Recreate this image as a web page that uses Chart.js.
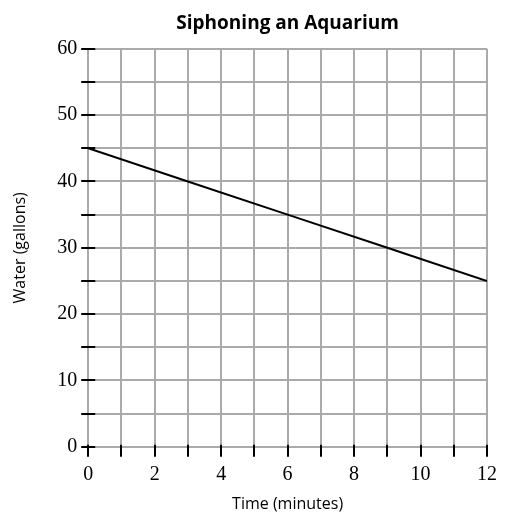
<!DOCTYPE html>
<html>
<head>
<meta charset="utf-8">
<script src="https://cdn.jsdelivr.net/npm/chart.js@4.4.0/dist/chart.umd.min.js"></script>
<style>
html,body{margin:0;padding:0;background:#fff;}
#wrap{width:509px;height:517px;position:relative;}
</style>
</head>
<body>
<div id="wrap"><canvas id="c" width="509" height="517"></canvas></div>
<script>
const timeMinutes = [0, 3, 6, 9, 12];
const waterGallons = [45, 40, 35, 30, 25];
const xTickLabels = [0, 2, 4, 6, 8, 10, 12];
const yTickLabels = [0, 10, 20, 30, 40, 50, 60];

const points = timeMinutes.map((t, i) => ({x: t, y: waterGallons[i]}));

const tickMarks = {
  id: 'tickMarks',
  afterDraw(chart) {
    const ctx = chart.ctx;
    const xs = chart.scales.x, ys = chart.scales.y;
    const area = chart.chartArea;
    ctx.save();
    ctx.strokeStyle = '#000';
    ctx.lineWidth = 2;
    ctx.beginPath();
    for (let v = 0; v <= 60; v += 5) {
      const py = Math.round(ys.getPixelForValue(v));
      ctx.moveTo(area.left - 7, py);
      ctx.lineTo(area.left + 7, py);
    }
    for (let v = 0; v <= 12; v += 1) {
      const px = Math.round(xs.getPixelForValue(v));
      ctx.moveTo(px, area.bottom - 2);
      ctx.lineTo(px, area.bottom + 10);
    }
    ctx.stroke();
    ctx.restore();
  }
};

new Chart(document.getElementById('c'), {
  type: 'line',
  data: {
    datasets: [{
      data: points,
      borderColor: '#000',
      borderWidth: 2,
      pointRadius: 0,
      fill: false,
      tension: 0
    }]
  },
  options: {
    responsive: false,
    animation: false,
    devicePixelRatio: 1,
    layout: {padding: {left: 11, right: 22, top: 12, bottom: 3}},
    plugins: {
      legend: {display: false},
      tooltip: {enabled: false},
      title: {
        display: true,
        text: 'Siphoning an Aquarium',
        fullSize: false,
        color: '#000',
        font: {family: 'Open Sans', size: 19, weight: 'bold'},
        padding: {top: 0, bottom: 14}
      }
    },
    scales: {
      x: {
        type: 'linear',
        min: 0, max: 12,
        border: {display: true, color: '#aaa', width: 2},
        grid: {color: '#aaa', lineWidth: 2, tickLength: 10, tickColor: 'transparent'},
        ticks: {
          stepSize: 1,
          color: '#000',
          font: {family: 'Liberation Serif', size: 20},
          padding: 6,
          maxRotation: 0,
          autoSkip: false,
          callback: v => xTickLabels.includes(v) ? String(v) : ''
        },
        title: {
          display: true,
          text: 'Time (minutes)',
          color: '#000',
          font: {family: 'Open Sans', size: 16},
          padding: {top: 2, bottom: 0}
        }
      },
      y: {
        min: 0, max: 60,
        border: {display: true, color: '#aaa', width: 2},
        grid: {color: '#aaa', lineWidth: 2, tickLength: 8, tickColor: 'transparent'},
        ticks: {
          stepSize: 5,
          color: '#000',
          font: {family: 'Liberation Serif', size: 20},
          padding: 3,
          autoSkip: false,
          callback: v => yTickLabels.includes(v) ? String(v) : ''
        },
        title: {
          display: true,
          text: 'Water (gallons)',
          color: '#000',
          font: {family: 'Open Sans', size: 16},
          padding: {top: 0, bottom: 24}
        }
      }
    }
  },
  plugins: [tickMarks]
});
</script>
</body>
</html>
